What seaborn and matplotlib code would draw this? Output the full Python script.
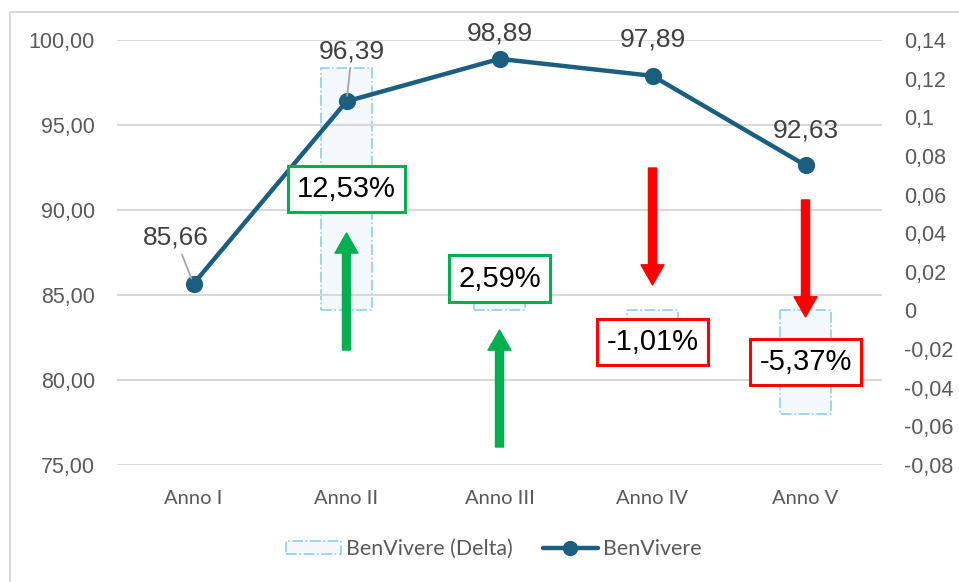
import numpy as np
import pandas as pd
import matplotlib.pyplot as plt
import seaborn as sns
from matplotlib.patches import Patch
from matplotlib.lines import Line2D

# dati
anni = ['Anno I', 'Anno II', 'Anno III', 'Anno IV', 'Anno V']
benvivere = [85.66, 96.39, 98.89, 97.89, 92.63]
delta = [np.nan, 0.1253, 0.0259, -0.0101, -0.0537]
delta_label = ['', '12,53%', '2,59%', '-1,01%', '-5,37%']

# posizioni delle annotazioni (asse sinistro)
label_offsets = [(-13, 33), (4, 36), (0, 18), (0, 26), (0, 25)]
box_y = [None, 91.24, 85.97, 82.24, 81.06]
arrow_tail = [None, 81.76, 76.06, 92.47, 90.59]
arrow_tip = [None, 88.65, 82.94, 85.59, 83.71]

df = pd.DataFrame({'Anno': anni, 'BenVivere': benvivere, 'Delta': delta})

sns.set_style('white')
plt.rcParams['font.family'] = ['Liberation Sans', 'DejaVu Sans']

linea = '#1b5e80'
grigio = '#595959'
verde = '#00b050'
rosso = '#ff0000'
barra = '#f3f8fc'
bordo = '#92cdee'

fig = plt.figure(figsize=(9.59, 5.82), dpi=100)
ax = fig.add_axes([117 / 959, 1 - 465 / 582, 765 / 959, 425 / 582])
ax2 = ax.twinx()

sns.barplot(data=df, x='Anno', y='Delta', order=anni, ax=ax2, width=0.33,
            color=barra, saturation=1, edgecolor=bordo,
            linestyle='-.', linewidth=1.2, errorbar=None)
sns.pointplot(data=df, x='Anno', y='BenVivere', order=anni, ax=ax,
              color=linea, markers='o', markersize=10, linewidth=3.2,
              errorbar=None)

ax.set_zorder(2)
ax2.set_zorder(1)
ax.patch.set_visible(False)

ax.set_xlim(-0.5, 4.5)
ax.set_ylim(75, 100)
ax.set_yticks(np.arange(75, 100.1, 5))
ax.set_yticklabels([f'{v:.2f}'.replace('.', ',') for v in np.arange(75, 100.1, 5)])
ax2.set_ylim(-0.08, 0.14)
tick2 = np.round(np.arange(-0.08, 0.141, 0.02), 2)
ax2.set_yticks(tick2)
ax2.set_yticklabels([f'{v:g}'.replace('.', ',') if v != 0 else '0' for v in tick2])

ax.grid(axis='y', color='#d9d9d9', linewidth=1.5)
ax.grid(axis='x', visible=False)
ax2.grid(False)
for a in (ax, ax2):
    for s in a.spines.values():
        s.set_visible(False)
    a.set_xlabel('')
    a.set_ylabel('')
ax.tick_params(axis='y', length=0, pad=16, labelsize=15.5, labelcolor=grigio)
ax2.tick_params(axis='y', length=0, pad=16, labelsize=15.5, labelcolor=grigio)
ax.tick_params(axis='x', length=0, pad=18, labelsize=14.5, labelcolor=grigio)
for t in ax.get_xticklabels():
    t.set_fontfamily('Lato')

# etichette dei valori
for i, v in enumerate(benvivere):
    lead = dict(arrowstyle='-', color='#a6a6a6', lw=1.3, shrinkA=1, shrinkB=4) if i < 2 else None
    ax.annotate(f'{v:.2f}'.replace('.', ','), xy=(i, v), xytext=label_offsets[i],
                textcoords='offset points', ha='center', va='center',
                fontsize=19, color='#404040', arrowprops=lead)

# frecce e riquadri delle variazioni
for i in range(1, len(anni)):
    col = verde if delta[i] > 0 else rosso
    ax.annotate('', xy=(i, arrow_tip[i]), xytext=(i, arrow_tail[i]),
                arrowprops=dict(arrowstyle='simple,head_length=1.45,head_width=1.65,tail_width=0.58',
                                color=col, mutation_scale=10, shrinkA=0, shrinkB=0))
    ax.text(i, box_y[i], delta_label[i], ha='center', va='center', fontsize=21,
            color='black', zorder=5,
            bbox=dict(boxstyle='square,pad=0.31', facecolor='white', edgecolor=col, linewidth=2.2))

handles = [Patch(facecolor=barra, edgecolor=bordo, linestyle='-.', linewidth=1.2),
           Line2D([], [], color=linea, linewidth=3.2, marker='o', markersize=10)]
fig.legend(handles, ['BenVivere (Delta)', 'BenVivere'], loc='center',
           bbox_to_anchor=(494 / 959, 1 - 549 / 582), ncol=2, frameon=False,
           prop={'family': 'Lato', 'size': 15.4}, labelcolor=grigio,
           handlelength=2.55, handleheight=0.6, handletextpad=0.25, columnspacing=1.4)

# bordo del grafico
fig.add_artist(Line2D([10 / 959, 10 / 959, 1], [0, 1 - 12 / 582, 1 - 12 / 582],
                      transform=fig.transFigure, color='#d9d9d9', linewidth=1.5))

fig.savefig('out.png', dpi=100)
